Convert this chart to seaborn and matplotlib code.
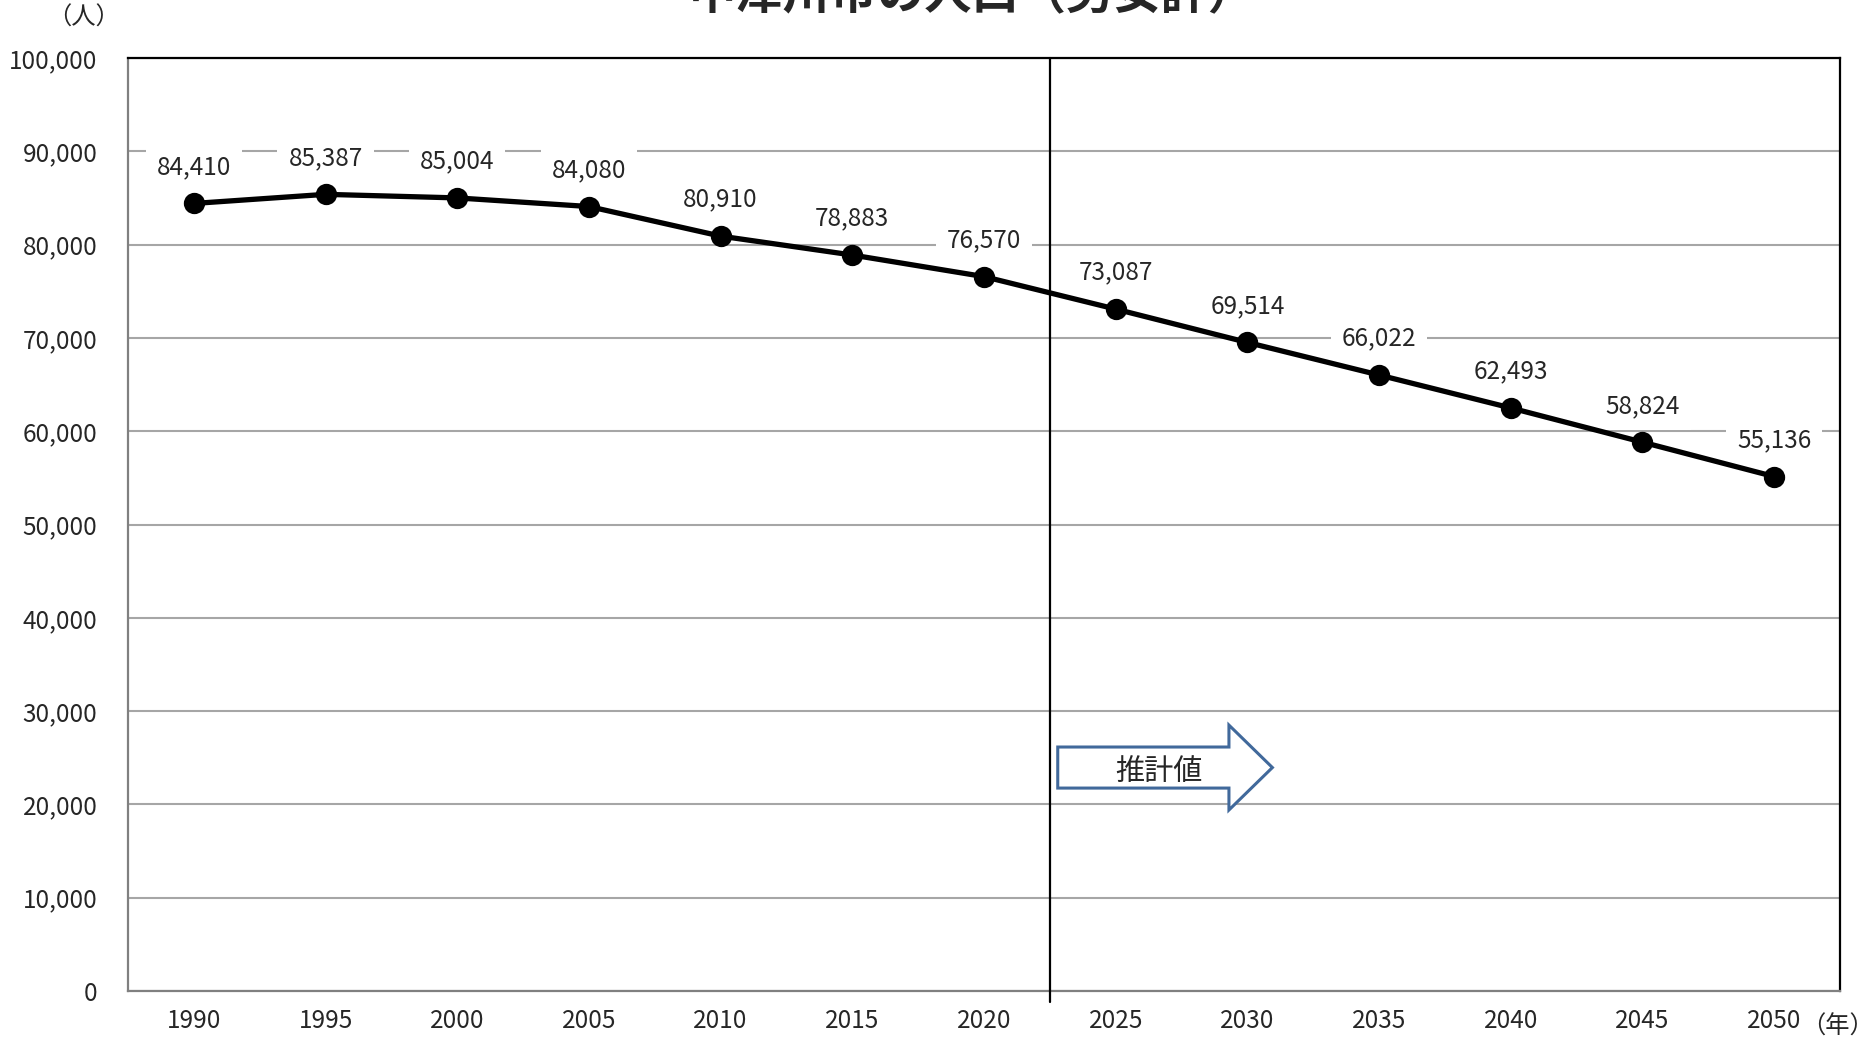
import numpy as np
import pandas as pd
import seaborn as sns
import matplotlib.pyplot as plt
from matplotlib.patches import Polygon

years = ["1990", "1995", "2000", "2005", "2010", "2015", "2020",
         "2025", "2030", "2035", "2040", "2045", "2050"]
population = [84410, 85387, 85004, 84080, 80910, 78883, 76570,
              73087, 69514, 66022, 62493, 58824, 55136]
y_ticks = list(range(0, 100001, 10000))
title = "中津川市の人口（男女計）"
arrow_label = "推計値"

df = pd.DataFrame({"year": years, "pop": population})

sns.set_style("white")
plt.rcParams["font.family"] = ["Noto Sans CJK JP", "DejaVu Sans"]

fig = plt.figure(figsize=(18.73, 10.42), dpi=100)
ax = fig.add_axes([128 / 1873, 1 - 991 / 1042, 1712 / 1873, 933 / 1042])

sns.pointplot(data=df, x="year", y="pop", color="black", markers="o",
              markersize=12.5, linewidth=3.8, ax=ax, zorder=5)

fs = 17.5
ax.set_xlim(-0.5, len(years) - 0.5)
ax.set_ylim(0, 100000)
ax.set_yticks(y_ticks)
ax.set_yticklabels([f"{v:,}" for v in y_ticks], fontsize=fs)
ax.set_xticks(range(len(years)))
ax.set_xticklabels(years, fontsize=fs)
ax.set_xticks(np.arange(-0.5, len(years), 1.0), minor=True)
ax.tick_params(axis="x", which="major", length=0, pad=12)
ax.tick_params(axis="x", which="minor", length=9, width=1.5, color="#808080", direction="out")
ax.tick_params(axis="y", length=8, width=1.5, color="#808080", direction="out", pad=14)
ax.set_xlabel("")
ax.set_ylabel("")

ax.grid(axis="y", color="#a6a6a6", linewidth=1.5)
ax.set_axisbelow(True)
for side in ["left", "bottom"]:
    ax.spines[side].set_color("#808080")
    ax.spines[side].set_linewidth(1.6)
for side in ["top", "right"]:
    ax.spines[side].set_color("black")
    ax.spines[side].set_linewidth(1.6)

# labels sit under the line, but over the grid
for i, v in enumerate(population):
    ax.text(i, v + 3900, f"{v:,}", ha="center", va="center", fontsize=fs,
            zorder=2, bbox=dict(boxstyle="square,pad=0.45", fc="white", ec="none"))

ax.axvline(6.5, ymin=-0.012, ymax=1, color="black", linewidth=1.6,
           clip_on=False, zorder=4)

arrow = Polygon([(6.56, 26150), (7.86, 26150), (7.86, 28500), (8.19, 23950),
                 (7.86, 19400), (7.86, 21750), (6.56, 21750)],
                closed=True, fc="white", ec="#41699b", lw=2.2, zorder=5)
ax.add_patch(arrow)
ax.text(7.33, 23500, arrow_label, ha="center", va="center", fontsize=21, zorder=6)

fig.text(972 / 1873, 1 - 9 / 1042, title, ha="center", va="baseline",
         fontsize=34, fontweight="bold")
fig.text(84 / 1873, 1 - 18 / 1042, "（人）", ha="center", va="center", fontsize=fs)
fig.text(1838 / 1873, 1 - 1027 / 1042, "（年）", ha="center", va="center", fontsize=fs)

fig.savefig("out.png", dpi=100)
